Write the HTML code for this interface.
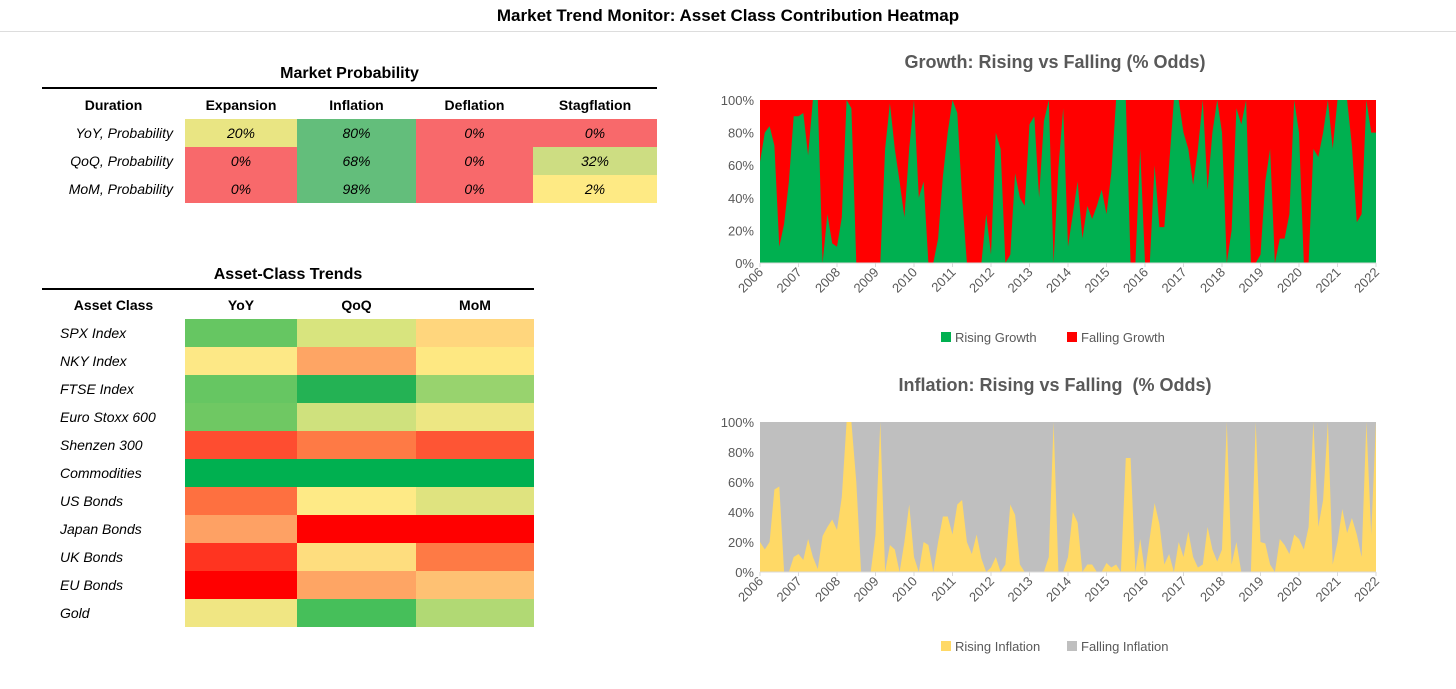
<!DOCTYPE html>
<html><head><meta charset="utf-8">
<style>
body{margin:0;width:1456px;height:689px;background:#fff;font-family:"Liberation Sans",sans-serif;position:relative;overflow:hidden}
.abs{position:absolute}
.title{left:0;width:1456px;top:6px;text-align:center;font-weight:bold;font-size:17px;color:#000}
table{border-collapse:collapse;position:absolute;font-size:14px}
td,th{padding:0;height:28px;text-align:center}
th{font-weight:bold}
td.l{text-align:left;font-style:italic;padding-left:18px}
td.r{text-align:right;font-style:italic;padding-right:12px}
td.v{font-style:italic}
.tt{font-weight:bold;font-size:16px;text-align:center}
</style></head><body>
<div class="abs title">Market Trend Monitor: Asset Class Contribution Heatmap</div>
<div class="abs" style="left:0;top:31px;width:1456px;height:1px;background:#ddd"></div>

<div class="abs tt" style="left:42px;top:65px;width:615px">Market Probability</div>
<div class="abs" style="left:42px;top:87px;width:615px;height:2px;background:#000"></div>
<table style="left:42px;top:91px">
<tr><th style="width:143px">Duration</th><th style="width:112px">Expansion</th><th style="width:119px">Inflation</th><th style="width:117px">Deflation</th><th style="width:124px">Stagflation</th></tr>
<tr><td class="r">YoY, Probability</td><td class="v" style="background:#e9e583">20%</td><td class="v" style="background:#63be7b">80%</td><td class="v" style="background:#f8696b">0%</td><td class="v" style="background:#f8696b">0%</td></tr>
<tr><td class="r">QoQ, Probability</td><td class="v" style="background:#f8696b">0%</td><td class="v" style="background:#63be7b">68%</td><td class="v" style="background:#f8696b">0%</td><td class="v" style="background:#cddd82">32%</td></tr>
<tr><td class="r">MoM, Probability</td><td class="v" style="background:#f8696b">0%</td><td class="v" style="background:#63be7b">98%</td><td class="v" style="background:#f8696b">0%</td><td class="v" style="background:#feea84">2%</td></tr>
</table>

<div class="abs tt" style="left:42px;top:266px;width:492px">Asset-Class Trends</div>
<div class="abs" style="left:42px;top:288px;width:492px;height:2px;background:#000"></div>
<table style="left:42px;top:291px">
<tr><th style="width:143px">Asset Class</th><th style="width:112px">YoY</th><th style="width:119px">QoQ</th><th style="width:118px">MoM</th></tr>
<tr><td class="l">SPX Index</td><td style="background:#66c662"></td><td style="background:#d8e47e"></td><td style="background:#ffd67d"></td></tr>
<tr><td class="l">NKY Index</td><td style="background:#fde886"></td><td style="background:#fea564"></td><td style="background:#fee882"></td></tr>
<tr><td class="l">FTSE Index</td><td style="background:#66c662"></td><td style="background:#24b254"></td><td style="background:#98d36e"></td></tr>
<tr><td class="l">Euro Stoxx 600</td><td style="background:#6fc863"></td><td style="background:#cfe17d"></td><td style="background:#ede783"></td></tr>
<tr><td class="l">Shenzen 300</td><td style="background:#fe4d30"></td><td style="background:#fe7a45"></td><td style="background:#fe5534"></td></tr>
<tr><td class="l">Commodities</td><td style="background:#00b050"></td><td style="background:#00b050"></td><td style="background:#00b050"></td></tr>
<tr><td class="l">US Bonds</td><td style="background:#fe7040"></td><td style="background:#feea86"></td><td style="background:#dfe37f"></td></tr>
<tr><td class="l">Japan Bonds</td><td style="background:#fea164"></td><td style="background:#ff0000"></td><td style="background:#ff0000"></td></tr>
<tr><td class="l">UK Bonds</td><td style="background:#ff3420"></td><td style="background:#fedd7e"></td><td style="background:#fe7a45"></td></tr>
<tr><td class="l">EU Bonds</td><td style="background:#ff0000"></td><td style="background:#fea564"></td><td style="background:#fec173"></td></tr>
<tr><td class="l">Gold</td><td style="background:#f0e683"></td><td style="background:#46bf5a"></td><td style="background:#b1d974"></td></tr>
</table>

<svg class="abs" style="left:0;top:0" width="1456" height="689" id="charts"></svg>
<script>
const years=["2006","2007","2008","2009","2010","2011","2012","2013","2014","2015","2016","2017","2018","2019","2020","2021","2022"];
const yTicks=[0,20,40,60,80,100];
const risingGrowth=[62,80,84,72,10,24,50,90, 90,92,66,100,100,0,30,12, 10,28,100,95,0,0,0,0, 0,0,70,98,70,50,28,70, 100,40,50,0,0,15,53,80, 100,92,40,0,0,0,0,30, 5,80,70,0,5,55,40,35, 85,90,40,87,100,0,58,95, 10,30,50,15,35,27,35,45, 30,55,100,100,100,0,0,70, 0,0,60,22,22,60,100,100, 80,70,48,70,100,45,80,100, 80,0,20,95,85,100,0,0, 5,50,70,0,15,15,30,100, 80,0,0,70,65,80,100,70, 100,100,100,72,25,30,100,80, 80];
const risingInflation=[20,15,20,55,57,0,0,10, 12,8,22,10,2,24,30,35, 28,50,100,100,60,0,0,0, 25,100,0,18,15,0,20,45, 10,0,20,18,0,20,37,37, 25,45,48,20,12,25,9,0, 3,10,0,5,45,38,5,0, 0,0,0,0,10,100,0,0, 10,40,33,0,5,5,0,0, 6,3,5,0,76,76,0,22, 0,23,46,32,5,12,0,20, 10,27,10,3,5,30,15,7, 15,100,5,20,0,0,0,100, 20,19,5,0,22,18,12,25, 22,15,30,100,30,48,100,5, 20,42,26,36,25,10,100,25, 100];
const svg=document.getElementById('charts');
const NS='http://www.w3.org/2000/svg';
function mk(t,a){const e=document.createElementNS(NS,t);for(const k in a)e.setAttribute(k,a[k]);svg.appendChild(e);return e;}
function drawChart(cfg){
  const x0=760,x1=1376,top=cfg.top,bot=cfg.bot;
  const xs=i=>x0+(x1-x0)*i/(cfg.data.length-1);
  const ys=v=>bot-(bot-top)*v/100;
  const bg=mk('rect',{x:x0,y:top,width:x1-x0,height:bot-top,fill:cfg.cFall});
  
  
  let d='M'+x0+','+bot;
  cfg.data.forEach((v,i)=>{d+=' L'+xs(i).toFixed(1)+','+ys(v).toFixed(1);});
  d+=' L'+x1+','+bot+' Z';
  const p=mk('path',{d:d,fill:cfg.cRise});
  
  
  mk('line',{x1:x0,x2:x1,y1:bot,y2:bot,stroke:'#d9d9d9'});
  yTicks.forEach(t=>{
    const tx=mk('text',{x:x0-6,y:ys(t)+5,'text-anchor':'end','font-size':'13',fill:'#595959','font-family':'Liberation Sans, sans-serif'});
    tx.textContent=t+'%';
    
    
  });
  years.forEach((y,i)=>{
    const xx=x0+(x1-x0)*i/(years.length-1);
    mk('line',{x1:xx,x2:xx,y1:bot,y2:bot+4,stroke:'#d9d9d9'});
    const tx=mk('text',{x:xx+4,y:bot+10,'text-anchor':'end','font-size':'13',fill:'#595959','font-family':'Liberation Sans, sans-serif',transform:'rotate(-45 '+(xx+4)+' '+(bot+10)+')'});
    tx.textContent=y;
    
    
  });
  const ti=mk('text',{x:1055,y:cfg.titleY,'text-anchor':'middle','font-size':'18','font-weight':'bold',fill:'#595959','font-family':'Liberation Sans, sans-serif','xml:space':'preserve'});
  ti.textContent=cfg.title;
  
  
  const ly=cfg.legY;
  const r1=mk('rect',{x:941,y:ly-5,width:10,height:10,fill:cfg.cRise});
  
  
  const t1=mk('text',{x:955,y:ly+5,'font-size':'13',fill:'#595959','font-family':'Liberation Sans, sans-serif'});
  t1.textContent=cfg.l1;
  
  
  const r2=mk('rect',{x:cfg.l2x,y:ly-5,width:10,height:10,fill:cfg.cFall});
  
  
  const t2=mk('text',{x:cfg.l2x+14,y:ly+5,'font-size':'13',fill:'#595959','font-family':'Liberation Sans, sans-serif'});
  t2.textContent=cfg.l2;
  
  
}
drawChart({id:'growth-chart',data:risingGrowth,top:100,bot:263,cRise:'#00b050',cFall:'#ff0000',title:'Growth: Rising vs Falling (% Odds)',titleY:68,legY:337,l1:'Rising Growth',l2:'Falling Growth',l2x:1067});
drawChart({id:'inflation-chart',data:risingInflation,top:422,bot:572,cRise:'#ffd966',cFall:'#bfbfbf',title:'Inflation: Rising vs Falling\u00a0 (% Odds)',titleY:391,legY:646,l1:'Rising Inflation',l2:'Falling Inflation',l2x:1067});
</script>
</body></html>
